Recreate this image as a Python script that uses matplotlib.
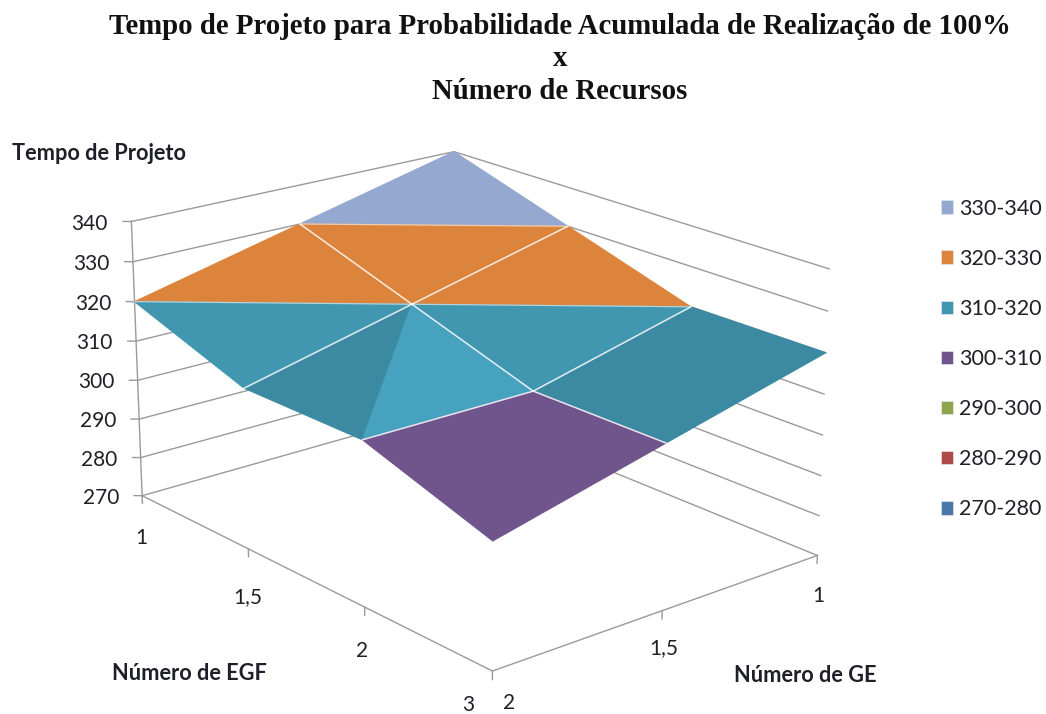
import numpy as np
import matplotlib
matplotlib.use('Agg')
import matplotlib.pyplot as plt
from matplotlib.patches import Patch
from matplotlib.colors import to_rgb
from mpl_toolkits.mplot3d.art3d import Poly3DCollection

egf_labels = ['1', '1,5', '2', '3']
ge_labels = ['1', '1,5', '2']
z_ticks = [270, 280, 290, 300, 310, 320, 330, 340]

# project time, one row per GE value, one column per EGF value
tempo_ge_1 = [340, 330, 320, 320]
tempo_ge_15 = [330, 320, 310, 310]
tempo_ge_2 = [320, 310, 310, 300]

band_labels = ['270-280', '280-290', '290-300', '300-310', '310-320', '320-330', '330-340']
band_colors = ['#4A76A8', '#AE4A47', '#8CA64E', '#70558C', '#4196B0', '#DC843C', '#94A8D0']
band_shade = [0, 0, 0, 0, 0.08, 0, 0]

# cells (egf, ge) that Excel folds along the other diagonal
main_diag_cells = [(1, 1), (2, 0), (2, 1)]

W, H = 1046, 714
GRID = '#9A9A9A'
TXT = '#1F1F28'
SANS = 'Lato'


def px(x, y):
    return x / W, 1 - y / H


def clip_z(poly, level, keep_above):
    # cut a polygon with a horizontal plane
    out = []
    for k in range(len(poly)):
        a, b = poly[k], poly[(k + 1) % len(poly)]
        a_in = a[2] >= level if keep_above else a[2] <= level
        b_in = b[2] >= level if keep_above else b[2] <= level
        if a_in:
            out.append(a)
        if a_in != b_in:
            t = (level - a[2]) / (b[2] - a[2])
            out.append(a + t * (b - a))
    return out


def shade_of(tri):
    # plane slope of the facet gives its lightness
    A = np.c_[tri[:, 0], tri[:, 1], np.ones(3)]
    dx, dy, _ = np.linalg.solve(A, tri[:, 2])
    return (dy - dx) / 10


tempo = np.array([tempo_ge_1, tempo_ge_15, tempo_ge_2], dtype=float)
n_ge, n_egf = tempo.shape

fig = plt.figure(figsize=(W / 100, H / 100), dpi=100)
ax = fig.add_axes([90.14 / W, -54.25 / H, 742.4 / W, 742.4 / H], projection='3d')
ax.computed_zorder = False

# walls
zmin, zmax = z_ticks[0], z_ticks[-1]
ymax = n_ge - 1
xmax = n_egf - 1
for z in z_ticks:
    ax.plot([0, 0, xmax], [ymax, 0, 0], [z, z, z], color=GRID, lw=1, zorder=1)

# axis lines and ticks
ax.plot([0, 0], [ymax, ymax], [zmin, zmax], color=GRID, lw=1, zorder=1)
ax.plot([0, xmax, xmax], [ymax, ymax, 0], [zmin, zmin, zmin], color=GRID, lw=1, zorder=1)
for z in z_ticks:
    ax.plot([0, -0.03], [ymax, ymax + 0.03], [z, z], color=GRID, lw=1, zorder=1)
for i in range(n_egf):
    ax.plot([i, i], [ymax, ymax], [zmin, zmin - 2], color=GRID, lw=1, zorder=1)
for j in range(n_ge - 1):
    ax.plot([xmax, xmax], [j, j], [zmin, zmin - 2], color=GRID, lw=1, zorder=1)

# surface split in facets per band
polys = []
colors = []
for j in range(n_ge - 1):
    for i in range(n_egf - 1):
        c = [np.array([i + a, j + b, tempo[j + b, i + a]], dtype=float)
             for a, b in [(0, 0), (1, 0), (1, 1), (0, 1)]]
        if (i, j) in main_diag_cells:
            tris = [[c[0], c[1], c[2]], [c[0], c[2], c[3]]]
        else:
            tris = [[c[0], c[1], c[3]], [c[1], c[2], c[3]]]
        for tri in tris:
            tri_z = [p[2] for p in tri]
            shade = shade_of(np.array(tri))
            for b in range(len(band_labels)):
                lo, hi = z_ticks[b], z_ticks[b + 1]
                if max(tri_z) <= lo or min(tri_z) >= hi:
                    continue
                poly = clip_z(clip_z(tri, lo, True), hi, False)
                if len(poly) < 3:
                    continue
                rgb = np.clip(np.array(to_rgb(band_colors[b])) * (1 + band_shade[b] * shade), 0, 1)
                polys.append(np.array(poly))
                colors.append(tuple(rgb))

surf = Poly3DCollection(polys, facecolors=colors, edgecolors=colors, linewidths=0.8, zorder=2)
ax.add_collection3d(surf)

# white mesh lines on top of the surface
xs = np.arange(n_egf)
ys = np.arange(n_ge)
ax.plot(xs, np.ones(n_egf), tempo[1], color='white', lw=1.1, alpha=0.85, zorder=3)
for i in [1, 2]:
    ax.plot(np.full(n_ge, i), ys, tempo[:, i], color='white', lw=1.1, alpha=0.85, zorder=3)
# level lines where the colours meet
for j in range(n_ge - 1):
    for i in range(n_egf - 1):
        if (i, j) not in main_diag_cells:
            ax.plot([i + 1, i], [j, j + 1], [tempo[j, i + 1], tempo[j + 1, i]],
                    color='white', lw=0.9, alpha=0.6, zorder=3)

ax.set_xlim(0, xmax, view_margin=0)
ax.set_ylim(ymax, 0, view_margin=0)
ax.set_zlim(zmin, zmax, view_margin=0)
ax.view_init(elev=19.479, azim=-39.938)
ax.set_proj_type('persp', focal_length=0.75)
ax.set_box_aspect((1, 0.749, 0.527))
ax.set_axis_off()

# value labels next to the left axis, placed through the 3d projection
M = ax.get_proj()
for z in z_ticks:
    v = M @ np.array([-0.085, ymax + 0.085, z - 0.6, 1.0])
    ax.text2D(v[0] / v[3], v[1] / v[3], str(z), transform=ax.transData, ha='right', va='center',
              fontsize=15, family=SANS, color=TXT)

# category labels
egf_label_pos = [(141, 538), (248, 597), (362, 651), (468, 705)]
ge_label_pos = [(818, 596), (664, 648), (509, 703)]
for lab, pos in zip(egf_labels, egf_label_pos):
    fig.text(*px(*pos), lab, ha='center', va='center', fontsize=15, family=SANS, color=TXT)
for lab, pos in zip(ge_labels, ge_label_pos):
    fig.text(*px(*pos), lab, ha='center', va='center', fontsize=15, family=SANS, color=TXT)

fig.text(*px(99, 153), 'Tempo de Projeto', ha='center', va='center', fontsize=15.7,
         fontweight='bold', family=SANS, color=TXT)
fig.text(*px(189, 673), 'Número de EGF', ha='center', va='center', fontsize=15.7,
         fontweight='bold', family=SANS, color=TXT)
fig.text(*px(805, 675), 'Número de GE', ha='center', va='center', fontsize=15.7,
         fontweight='bold', family=SANS, color=TXT)

fig.text(*px(560, 59),
         'Tempo de Projeto para Probabilidade Acumulada de Realização de 100%\nx\nNúmero de Recursos',
         ha='center', va='center', fontsize=20.7, fontweight='bold', family='Liberation Serif',
         color='#111111', linespacing=1.27)

handles = [Patch(facecolor=c, edgecolor='#E4E4EC', lw=0.5, label=l)
           for c, l in zip(band_colors[::-1], band_labels[::-1])]
fig.legend(handles=handles, loc='upper left', bbox_to_anchor=px(932, 190), frameon=False,
           prop={'family': SANS, 'size': 15.5}, labelcolor=TXT, handlelength=0.58, handleheight=0.58,
           handletextpad=0.26, labelspacing=1.40, borderpad=0.4, borderaxespad=0)

fig.savefig('out.png', dpi=100)
